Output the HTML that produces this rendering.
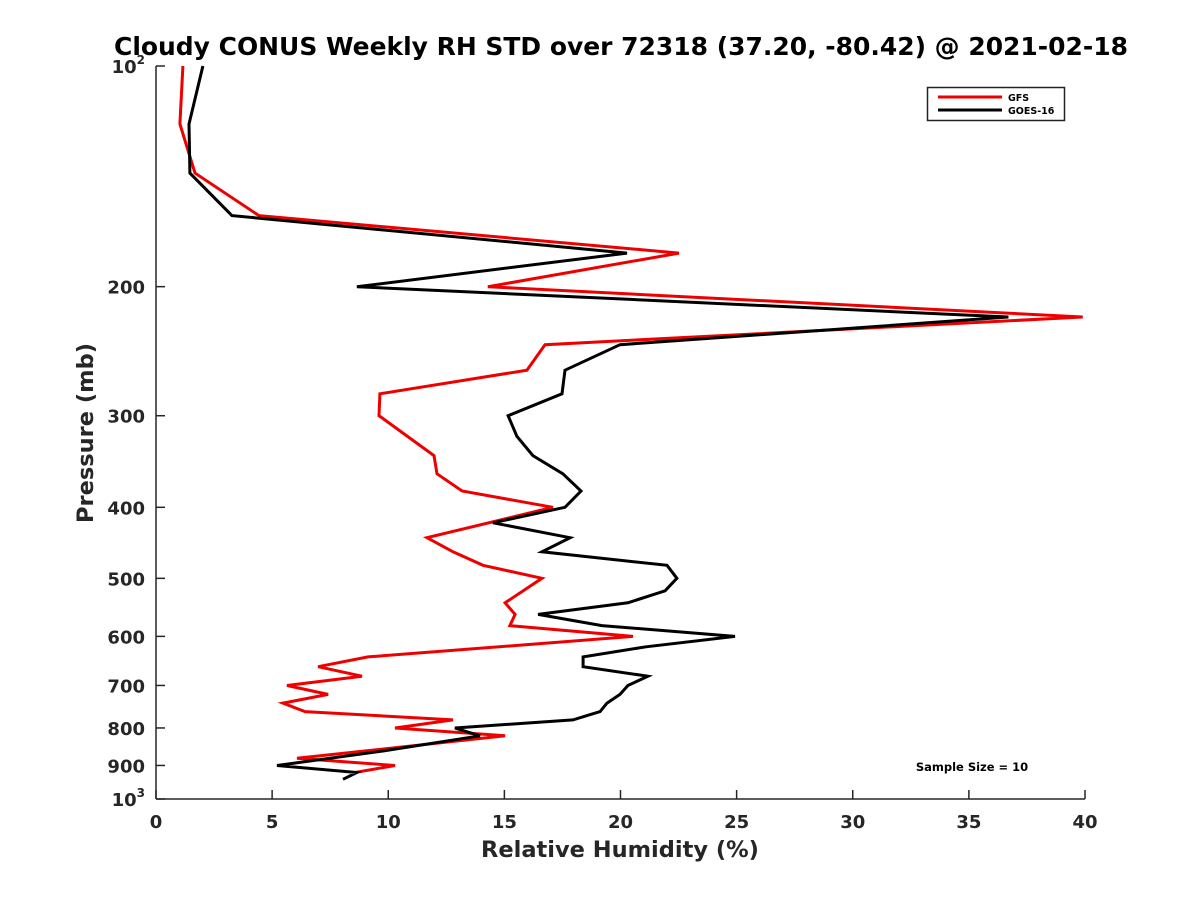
<!DOCTYPE html>
<html><head><meta charset="utf-8"><style>
body{margin:0;background:#fff}
svg{font-family:"DejaVu Sans","Liberation Sans",sans-serif;font-weight:bold}
</style></head><body>
<svg id="chart" width="1200" height="900" xmlns="http://www.w3.org/2000/svg">
<rect width="1200" height="900" fill="#fff"/>
<text x="621" y="55" font-size="25" textLength="1014" lengthAdjust="spacingAndGlyphs" text-anchor="middle" fill="#000">Cloudy CONUS Weekly RH STD over 72318 (37.20, -80.42) @ 2021-02-18</text>
<g id="axes"></g>
<g id="series"></g>
<g>
<rect x="927.5" y="87.5" width="137" height="33" fill="#fff" stroke="#222" stroke-width="1.5"/>
<line x1="938" y1="97" x2="1002" y2="97" stroke="#e00" stroke-width="3"/>
<text x="1008" y="101" font-size="9.5">GFS</text>
<line x1="938" y1="110" x2="1002" y2="110" stroke="#000" stroke-width="3"/>
<text x="1008" y="114" font-size="9.5">GOES-16</text>
</g>
<text x="972" y="771" font-size="11.5" text-anchor="middle">Sample Size = 10</text>
<text x="620" y="857" font-size="22.5" text-anchor="middle" fill="#262626">Relative Humidity (%)</text>
<text transform="translate(93,433) rotate(-90)" font-size="22.5" text-anchor="middle" fill="#262626">Pressure (mb)</text>
</svg>
<script>
const xTicks=[0,5,10,15,20,25,30,35,40];
const yTicks=[100,200,300,400,500,600,700,800,900,1000];
const gfsP=[100,120,140,160,180,200,220,240,260,280,300,340,360,380,400,440,460,480,500,540,560,580,600,640,660,680,700,720,740,760,780,800,820,880,900,920];
const gfsRH=[1.16,1.03,1.68,4.43,22.52,14.29,39.9,16.75,15.97,9.64,9.6,11.97,12.1,13.18,17.09,11.67,12.79,14.08,16.62,15.03,15.46,15.24,20.54,9.13,6.98,8.87,5.64,7.41,5.47,6.42,12.79,10.29,15.03,6.07,10.29,8.57];
const goesP=[100,120,140,160,180,200,220,240,260,280,300,320,340,360,380,400,420,440,460,480,500,520,540,560,580,600,620,640,660,680,700,720,740,760,780,800,820,860,900,920,940];
const goesRH=[2.02,1.42,1.46,3.27,20.28,8.65,36.7,19.98,17.61,17.48,15.16,15.54,16.23,17.52,18.3,17.61,14.51,17.83,16.62,22.0,22.43,21.92,20.32,16.45,19.2,24.93,21.1,18.39,18.39,21.18,20.32,19.98,19.42,19.12,17.95,12.87,13.95,9.77,5.21,8.65,8.05];
const X0=156,X1=1085,Y0=66,Y1=799;
const xs=v=>X0+(v-0)/40*(X1-X0);
const ys=p=>Y0+Math.log10(p/100)*(Y1-Y0);
const NS='http://www.w3.org/2000/svg';
const ax=document.getElementById('axes');
function mk(t,a,parent){const e=document.createElementNS(NS,t);for(const k in a)e.setAttribute(k,a[k]);parent.appendChild(e);return e;}
let l=mk('line',{x1:X0,y1:Y0,x2:X0,y2:Y1,stroke:'#262626','stroke-width':1.5},ax);


l=mk('line',{x1:X0,y1:Y1,x2:X1,y2:Y1,stroke:'#262626','stroke-width':1.5},ax);


xTicks.forEach(v=>{const x=xs(v);
 const t=mk('line',{x1:x,y1:Y1,x2:x,y2:Y1-9,stroke:'#262626','stroke-width':1.5},ax);
 
 
 const tx=mk('text',{x:x,y:Y1+29,'font-size':18,'text-anchor':'middle',fill:'#262626'},ax);tx.textContent=v;
 
 
});
yTicks.forEach(p=>{const y=ys(p);
 const t=mk('line',{x1:X0,y1:y,x2:X0+9,y2:y,stroke:'#262626','stroke-width':1.5},ax);
 
 
 const tx=mk('text',{x:X0-11,y:y+7,'font-size':18,'text-anchor':'end',fill:'#262626'},ax);
 if(p===100||p===1000){tx.textContent='10';const s=mk('tspan',{dy:-9,'font-size':12},tx);s.textContent=p===100?'2':'3';}
 else tx.textContent=p;
 
 
});
const sg=document.getElementById('series');
function draw(P,V,c,name){const pts=P.map((p,i)=>xs(V[i]).toFixed(1)+','+ys(p).toFixed(1)).join(' ');
 const e=mk('polyline',{points:pts,fill:'none',stroke:c,'stroke-width':3,'stroke-linejoin':'miter'},sg);
 
 }
draw(gfsP,gfsRH,'#e00','gfs-line');
draw(goesP,goesRH,'#000','goes16-line');
</script>
</body></html>
